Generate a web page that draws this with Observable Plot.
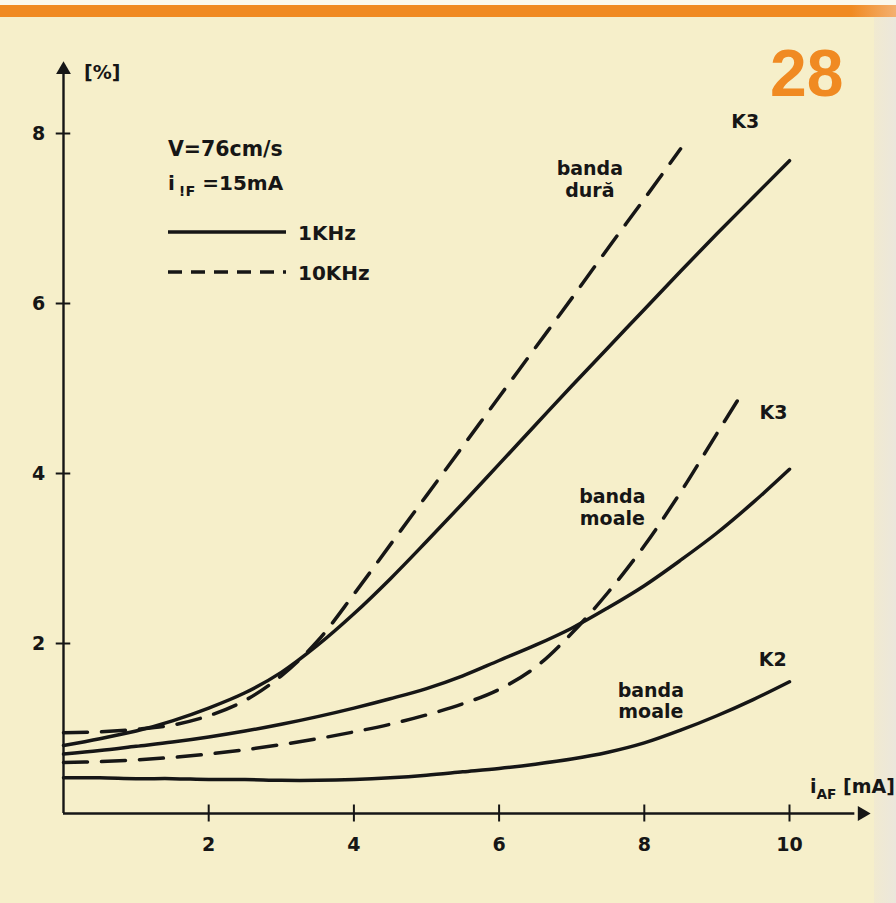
<!DOCTYPE html>
<html>
<head>
<meta charset="utf-8">
<script src="https://cdn.jsdelivr.net/npm/d3@7"></script>
<script src="https://cdn.jsdelivr.net/npm/@observablehq/plot@0.6"></script>
<style>
  html, body { margin: 0; padding: 0; background: #f6efca; }
  #wrap { position: relative; width: 896px; height: 903px; overflow: hidden; background: #f6efca; }
  #chart { position: absolute; left: 0; top: 0; }
  .ov { position: absolute; line-height: 1; color: #161616; font-family: "DejaVu Sans", sans-serif; font-weight: bold; white-space: nowrap; transform: translateY(-50%); }
  #topwhite { position: absolute; left: 0; top: 0; width: 896px; height: 5px; background: #fbf8ec; }
  #bar { position: absolute; left: 0; top: 5px; width: 896px; height: 12px; background: linear-gradient(to right, #f08a22 0%, #f08a22 95%, #f4b070 100%); }
  #edge { position: absolute; left: 874px; top: 17px; width: 22px; height: 886px; background: linear-gradient(to right, #f1ead0, #ebe7dc); }
  sub { font-size: 0.72em; vertical-align: -0.45em; }
</style>
</head>
<body>
<div id="wrap">
  <div id="topwhite"></div>
  <div id="bar"></div>
  <div id="edge"></div>
  <div id="chart"></div>
  <!-- legend / conditions -->
  <div class="ov" style="left:168px; top:149px; font-size:20.5px;">V=76cm/s</div>
  <div class="ov" style="left:168px; top:186px; font-size:20px;">i<sub style="margin-left:4px;">!F</sub> =15mA</div>
  <div class="ov" style="left:168px; top:232px;"><svg width="118" height="6" style="display:block"><line x1="0" y1="3" x2="118" y2="3" stroke="#161616" stroke-width="3.4"/></svg></div>
  <div class="ov" style="left:298px; top:233px; font-size:20px;">1KHz</div>
  <div class="ov" style="left:168px; top:272px;"><svg width="118" height="6" style="display:block"><line x1="0" y1="3" x2="118" y2="3" stroke="#161616" stroke-width="3.4" stroke-dasharray="14,9"/></svg></div>
  <div class="ov" style="left:298px; top:273px; font-size:20px;">10KHz</div>
  <!-- axis titles -->
  <div class="ov" style="left:84px; top:72px; font-size:19px;">[%]</div>
  <div class="ov" style="left:810px; top:789px; font-size:19px;">i<sub>AF</sub> [mA]</div>
</div>
<script>
// ---- data ----
const xs = [0,0.5,1,1.5,2,2.5,3,3.5,4,4.5,5,5.5,6,6.5,7,7.5,8,8.5,9,9.5,10];

// banda dură, K3, 1 kHz (solid)
const duraK3_1k = [0.80,0.88,0.97,1.09,1.24,1.42,1.66,1.98,2.35,2.76,3.20,3.65,4.11,4.57,5.03,5.48,5.93,6.38,6.82,7.25,7.68];
// banda dură, K3, 10 kHz (dashed) — ends at 8.5 mA
const duraK3_10kX = [0,0.5,1,1.5,2,2.5,3,3.5,4,4.5,5,5.5,6,6.5,7,7.5,8,8.5];
const duraK3_10k = [0.95,0.96,0.99,1.04,1.15,1.33,1.62,2.03,2.58,3.16,3.74,4.32,4.90,5.48,6.06,6.65,7.23,7.82];
// banda moale, K3, 1 kHz (solid)
const moaleK3_1k = [0.70,0.74,0.79,0.84,0.90,0.97,1.05,1.14,1.24,1.35,1.47,1.62,1.80,1.98,2.18,2.42,2.68,2.98,3.30,3.66,4.05];
// banda moale, K3, 10 kHz (dashed) — ends at 9.3 mA
const moaleK3_10kX = [0,0.5,1,1.5,2,2.5,3,3.5,4,4.5,5,5.5,6,6.5,7,7.5,8,8.5,9,9.3];
const moaleK3_10k = [0.60,0.61,0.63,0.66,0.70,0.75,0.81,0.88,0.96,1.05,1.16,1.29,1.46,1.72,2.12,2.60,3.15,3.78,4.47,4.88];
// banda moale, K2, 1 kHz (solid)
const moaleK2_1k = [0.42,0.42,0.41,0.41,0.40,0.40,0.39,0.39,0.40,0.42,0.45,0.49,0.53,0.58,0.64,0.72,0.83,0.98,1.15,1.34,1.55];

const xTicks = [2,4,6,8,10];
const yTicks = [2,4,6,8];

const curveLabels = [
  {text: "K3", x: 9.39, y: 8.15},
  {text: "banda\ndură", x: 7.25, y: 7.46},
  {text: "K3", x: 9.78, y: 4.72},
  {text: "banda\nmoale", x: 7.56, y: 3.61},
  {text: "K2", x: 9.77, y: 1.82},
  {text: "banda\nmoale", x: 8.09, y: 1.33}
];

// ---- build tables ----
const rows = (series, xArr, yArr) => xArr.map((x, i) => ({series, x, y: yArr[i]}));
const solidRows = [
  ...rows("dura K3 1kHz", xs, duraK3_1k),
  ...rows("moale K3 1kHz", xs, moaleK3_1k),
  ...rows("moale K2 1kHz", xs, moaleK2_1k)
];
const dashedRows = [
  ...rows("dura K3 10kHz", duraK3_10kX, duraK3_10k),
  ...rows("moale K3 10kHz", moaleK3_10kX, moaleK3_10k)
];

const ink = "#161616";
const xMax = 10, yMax = 8;
const xAxisEnd = xMax * 1.1, yAxisEnd = yMax * 1.1;

const chart = Plot.plot({
  width: 896,
  height: 903,
  marginLeft: 63,
  marginRight: 107,
  marginTop: 133,
  marginBottom: 90,
  x: {domain: [0, xMax], axis: null},
  y: {domain: [0, yMax], axis: null},
  style: {background: "transparent", fontFamily: "DejaVu Sans, sans-serif", color: ink},
  marks: [
    // axes
    Plot.ruleY([0], {x1: 0, x2: xAxisEnd - 0.1, stroke: ink, strokeWidth: 2.4}),
    Plot.ruleX([0], {y1: 0, y2: yAxisEnd - 0.1, stroke: ink, strokeWidth: 2.4}),
    Plot.dot([{x: xAxisEnd, y: 0}], {x: "x", y: "y", symbol: "triangle", r: 5.5, fill: ink, stroke: null, rotate: 90}),
    Plot.dot([{x: 0, y: yAxisEnd - 0.05}], {x: "x", y: "y", symbol: "triangle", r: 5.5, fill: ink, stroke: null}),
    // crossing ticks
    Plot.ruleX(xTicks, {x: d => d, y1: -0.1, y2: 0.1, stroke: ink, strokeWidth: 2}),
    Plot.ruleY(yTicks, {y: d => d, x1: -0.1, x2: 0.1, stroke: ink, strokeWidth: 2}),
    // tick labels
    Plot.text(xTicks, {x: d => d, y: 0, dy: 31, text: d => String(d), fontSize: 19, fontWeight: "bold", fill: ink}),
    Plot.text(yTicks, {x: 0, y: d => d, dx: -25, text: d => String(d), fontSize: 19, fontWeight: "bold", fill: ink}),
    // curves
    Plot.line(solidRows, {x: "x", y: "y", z: "series", stroke: ink, strokeWidth: 3.5, curve: "catmull-rom"}),
    Plot.line(dashedRows, {x: "x", y: "y", z: "series", stroke: ink, strokeWidth: 3.5, curve: "catmull-rom", strokeDasharray: "24,14"}),
    // curve labels
    Plot.text(curveLabels, {x: "x", y: "y", text: "text", fontSize: 19, fontWeight: "bold", lineHeight: 1.15, fill: ink}),
    // figure number
    Plot.text(["28"], {frameAnchor: "top-right", dx: 54, dy: -84, text: d => d, fontSize: 66, fontWeight: "bold", fill: "#f08a22", fontFamily: "Liberation Sans, sans-serif"})
  ]
});
document.getElementById("chart").appendChild(chart);
</script>
</body>
</html>
